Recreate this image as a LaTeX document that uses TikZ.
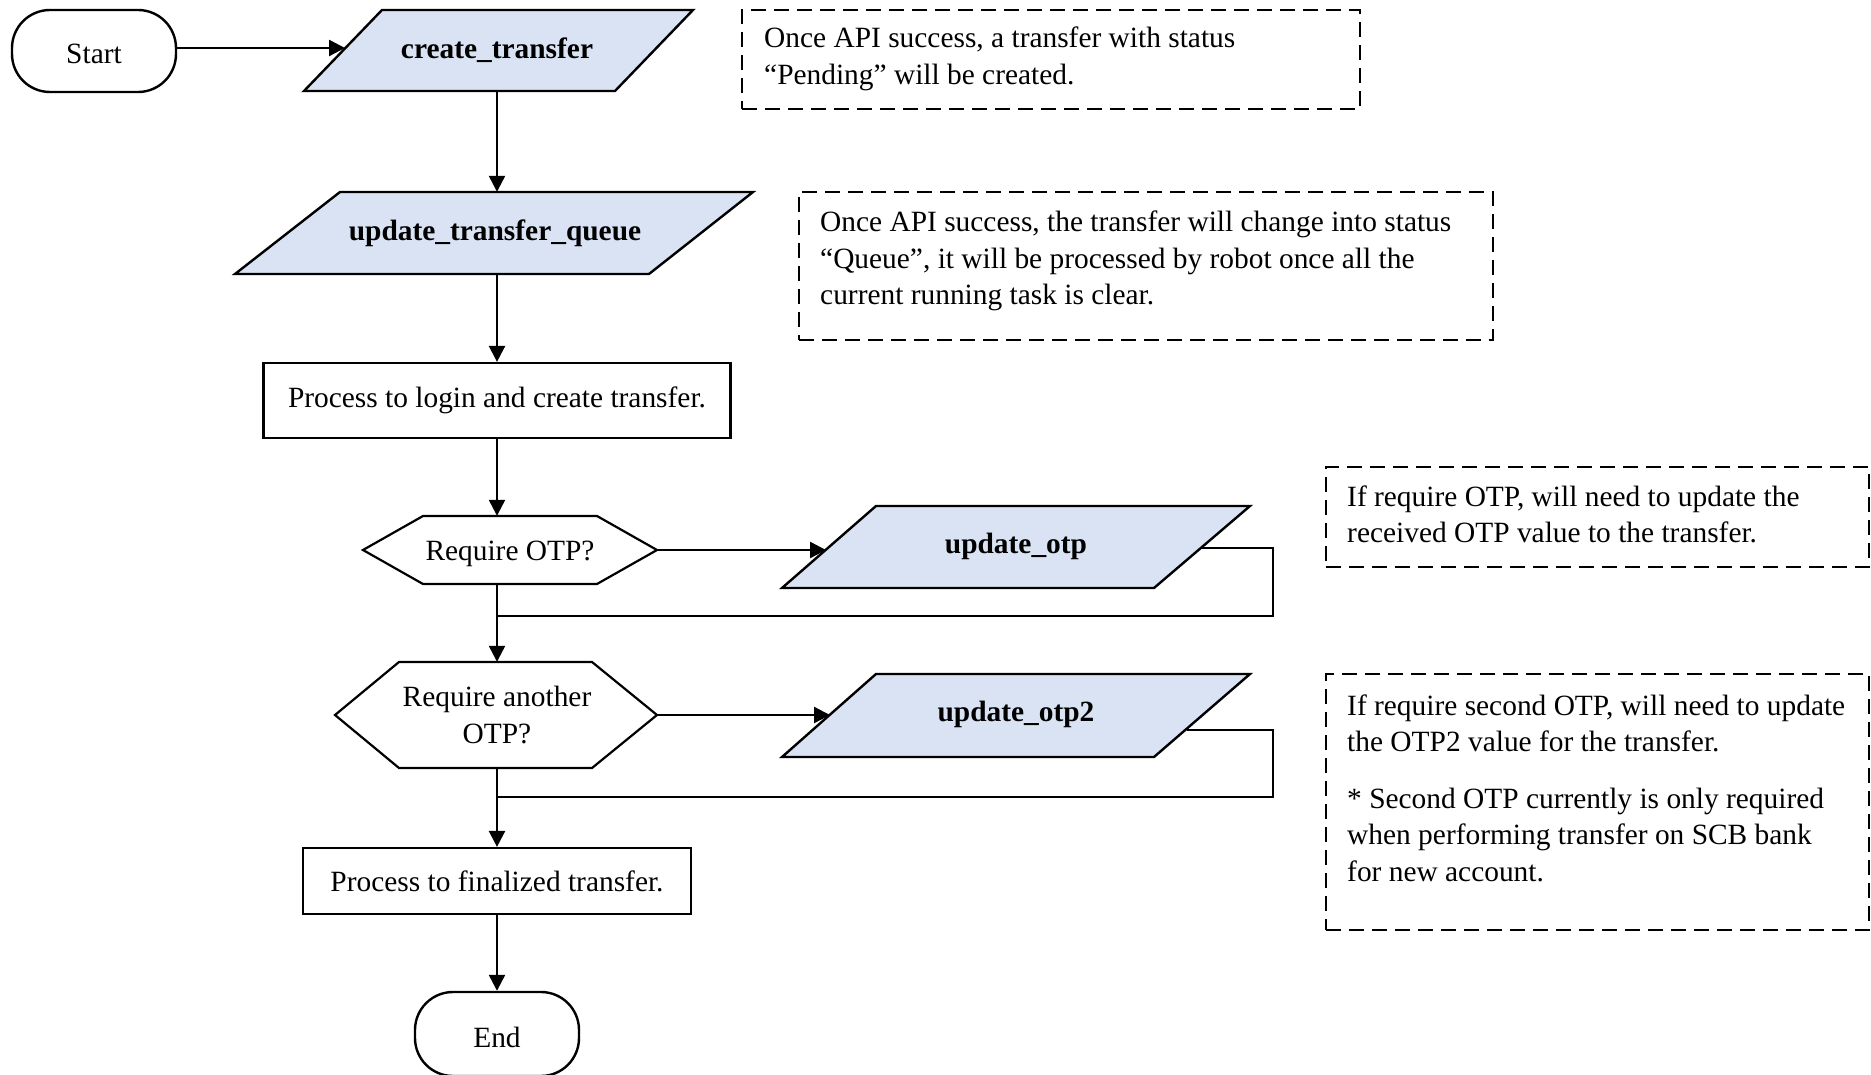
\documentclass[tikz,border=0pt]{standalone}
\usepackage{fontspec}
\setmainfont{Liberation Serif}
\usetikzlibrary{arrows.meta}
\definecolor{parafill}{HTML}{DAE3F3}
\begin{document}
\begin{tikzpicture}[x=1pt,y=-1pt,
  every node/.style={font=\fontsize{29.4pt}{36.5pt}\selectfont, inner sep=0pt},
  line/.style={line width=2.4pt, draw=black},
  arr/.style={line width=2.4pt, draw=black, -{Triangle[length=16pt,width=16pt]}},
  terminal/.style={draw, line width=2.4pt, rounded corners=38pt, minimum width=164pt, minimum height=82pt, text height=26pt, text depth=0pt},
  procbox/.style={draw, line width=2.2pt},
  paratext/.style={font=\fontsize{29.4pt}{36.5pt}\selectfont\bfseries},
  parashape/.style={fill=parafill, draw=black, line width=2.4pt, line join=miter},
  hexshape/.style={fill=white, draw=black, line width=2.2pt},
  note/.style={draw, line width=2pt, dash pattern=on 15pt off 8pt},
  notetext/.style={anchor=base west, align=left}]
\useasboundingbox (0,0) rectangle (1871,1075);

% Terminals
\node[terminal] (start) at (94,51) {Start};

% create_transfer
\filldraw[parashape] (382,10) -- (693,10) -- (615,91) -- (304,91) -- cycle;
\node[paratext, minimum width=311pt, minimum height=81pt] (ct) at (497,50.5) {create\_transfer};
\coordinate (ctw) at (345,48);

% update_transfer_queue
\filldraw[parashape] (340,192) -- (753,192) -- (649,274) -- (235,274) -- cycle;
\node[paratext, minimum width=413pt, minimum height=82pt] (utq) at (495,233) {update\_transfer\_queue};

% Process login
\node[procbox, minimum width=467pt, minimum height=75pt] (proc1) at (497,400.5) {Process to login and create transfer.};

% Require OTP? hexagon
\filldraw[hexshape] (363,550) -- (423,516) -- (597,516) -- (657,550) -- (597,584) -- (423,584) -- cycle;
\node[minimum width=294pt, minimum height=68pt, text height=20pt, text depth=0pt] (req1) at (510,550) {Require OTP?};

% update_otp
\filldraw[parashape] (876,506) -- (1250,506) -- (1154,588) -- (782,588) -- cycle;
\node[paratext, minimum width=374pt, minimum height=82pt] (uo) at (1016,546) {update\_otp};
\coordinate (uow) at (826,550);
\coordinate (uoe) at (1202,548);
\coordinate (j1) at (497,616);

% Require another OTP? hexagon
\filldraw[hexshape] (335,715) -- (399,662) -- (592,662) -- (657,715) -- (592,768) -- (399,768) -- cycle;
\node[minimum width=322pt, minimum height=106pt, align=center] (req2) at (497,715) {Require another\\OTP?};

% update_otp2
\filldraw[parashape] (876,674) -- (1250,674) -- (1154,757) -- (782,757) -- cycle;
\node[paratext, minimum width=374pt, minimum height=83pt] (uo2) at (1016,714) {update\_otp2};
\coordinate (uo2w) at (830,715);
\coordinate (uo2e) at (1187,730);
\coordinate (j2) at (497,797);

% Process finalized
\node[procbox, minimum width=388pt, minimum height=66pt] (fin) at (497,881) {Process to finalized transfer.};

% End
\node[terminal, minimum height=84pt] (end) at (497,1034) {End};

% Connectors
\draw[arr] (start.east |- ctw) -- (ctw);
\draw[arr] (ct.south -| proc1.north) -- (utq.north -| proc1.north);
\draw[arr] (utq.south -| proc1.north) -- (proc1.north);
\draw[arr] (proc1.south) -- (req1.north -| proc1.south);
\draw[arr] (req1.east) -- (uow);
\draw[line] (uoe) -- ++(71,0) |- (j1);
\draw[arr] (req1.south -| proc1.south) -- (req2.north);
\draw[arr] (req2.east) -- (uo2w);
\draw[line] (uo2e) -- ++(86,0) |- (j2);
\draw[arr] (req2.south) -- (fin.north);
\draw[arr] (fin.south) -- (end.north);

% Notes
\node[note, minimum width=618pt, minimum height=99pt] (n1) at (1051,59.5) {};
\node[notetext] (n1t) at (764,84.5) {Once API success, a transfer with status\\“Pending” will be created.};

\node[note, minimum width=694pt, minimum height=148pt] (n2) at (1146,266) {};
\node[notetext] (n2t) at (820,305) {Once API success, the transfer will change into status\\“Queue”, it will be processed by robot once all the\\current running task is clear.};

\node[note, minimum width=543pt, minimum height=100pt] (n3) at (1597.5,517) {};
\node[notetext] (n3t) at (1347,542.5) {If require OTP, will need to update the\\received OTP value to the transfer.};

\node[note, minimum width=543pt, minimum height=256pt] (n4) at (1597.5,802) {};
\node[notetext] (n4t) at (1347,751.5) {If require second OTP, will need to update\\the OTP2 value for the transfer.};
\node[notetext] (n4u) at (1347,881) {* Second OTP currently is only required\\when performing transfer on SCB bank\\for new account.};
\end{tikzpicture}
\end{document}
